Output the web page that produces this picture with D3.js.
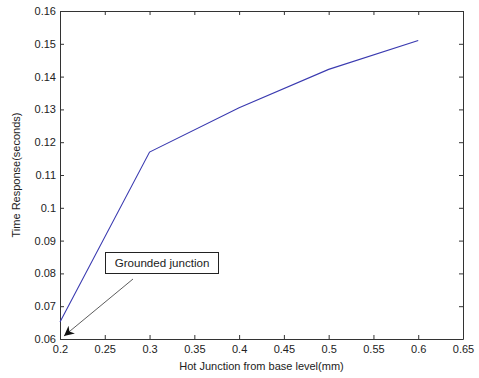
<!DOCTYPE html>
<html>
<head>
<meta charset="utf-8">
<script src="https://cdn.jsdelivr.net/npm/d3@7"></script>
<style>
  html, body { margin: 0; padding: 0; background: #fff; }
  svg text { font-family: "Liberation Sans", Arial, sans-serif; fill: #222; }
</style>
</head>
<body>
<svg id="chart" width="479" height="378"></svg>
<script>
// Hot junction position (mm) vs. time response (s)
const positions = [0.2, 0.3, 0.4, 0.5, 0.6];
const responses = [0.0652, 0.117, 0.1305, 0.1422, 0.151];
const xTicks = [0.2, 0.25, 0.3, 0.35, 0.4, 0.45, 0.5, 0.55, 0.6, 0.65];
const yTicks = [0.06, 0.07, 0.08, 0.09, 0.1, 0.11, 0.12, 0.13, 0.14, 0.15, 0.16];
const annotation = { text: "Grounded junction", x: 0.2, y: 0.06 };

const margin = { left: 60, top: 11, right: 16, bottom: 39 };
const W = 479, H = 378;
const svg = d3.select("#chart");
const x = d3.scaleLinear().domain([0.2, 0.65]).range([margin.left, W - margin.right]);
const y = d3.scaleLinear().domain([0.06, 0.16]).range([H - margin.bottom, margin.top]);

const fmt = d => String(+d.toFixed(2));
const tickLen = 4;
const axisColor = "#333";

// Bottom and left axes with inward ticks
const gx = svg.append("g").attr("transform", `translate(0,${y(0.06)})`)
  .call(d3.axisBottom(x).tickValues(xTicks).tickFormat(fmt).tickSizeInner(-tickLen).tickSizeOuter(0).tickPadding(6));
const gy = svg.append("g").attr("transform", `translate(${x(0.2)},0)`)
  .call(d3.axisLeft(y).tickValues(yTicks).tickFormat(fmt).tickSizeInner(-tickLen).tickSizeOuter(0).tickPadding(4));
// Top and right mirror ticks
const gt = svg.append("g").attr("transform", `translate(0,${y(0.16)})`)
  .call(d3.axisTop(x).tickValues(xTicks).tickFormat("").tickSizeInner(-tickLen).tickSizeOuter(0));
const gr = svg.append("g").attr("transform", `translate(${x(0.65)},0)`)
  .call(d3.axisRight(y).tickValues(yTicks).tickFormat("").tickSizeInner(-tickLen).tickSizeOuter(0));

[gx, gy, gt, gr].forEach(g => {
  g.selectAll("path.domain").attr("stroke", axisColor).attr("stroke-width", 1);
  g.selectAll(".tick line").attr("stroke", axisColor);
  g.selectAll(".tick text").attr("font-size", 11).style("fill", "#222");
});

// Data line
const line = d3.line().x((d, i) => x(positions[i])).y(d => y(d));
svg.append("path").datum(responses)
  .attr("fill", "none").attr("stroke", "#3a3ab0").attr("stroke-width", 1.1)
  .attr("d", line);

// Axis titles
svg.append("text").attr("x", (x(0.2) + x(0.65)) / 2).attr("y", 370)
  .attr("text-anchor", "middle").attr("font-size", 11).text("Hot Junction from base level(mm)");
svg.append("text").attr("transform", `translate(20,${(y(0.06) + y(0.16)) / 2}) rotate(-90)`)
  .attr("text-anchor", "middle").attr("font-size", 11).text("Time Response(seconds)");

// Annotation arrow and text box
const defs = svg.append("defs");
defs.append("marker").attr("id", "arrowhead").attr("viewBox", "0 0 10 10")
  .attr("refX", 10).attr("refY", 5).attr("markerWidth", 10).attr("markerHeight", 10)
  .attr("markerUnits", "userSpaceOnUse").attr("orient", "auto")
  .append("path").attr("d", "M0,0 L10,5 L0,10 L3,5 Z").attr("fill", "#111");

const ax = x(annotation.x) + 4, ay = y(annotation.y) - 3;
svg.append("line").attr("x1", 133).attr("y1", 279).attr("x2", ax).attr("y2", ay)
  .attr("stroke", "#333").attr("stroke-width", 0.8).attr("marker-end", "url(#arrowhead)");

const box = svg.append("g");
box.append("rect").attr("x", 105.5).attr("y", 252.5).attr("width", 113).attr("height", 21)
  .attr("fill", "#fff").attr("stroke", "#222").attr("stroke-width", 1);
box.append("text").attr("x", 162).attr("y", 267).attr("text-anchor", "middle")
  .attr("font-size", 11.6).text(annotation.text);
</script>
</body>
</html>
